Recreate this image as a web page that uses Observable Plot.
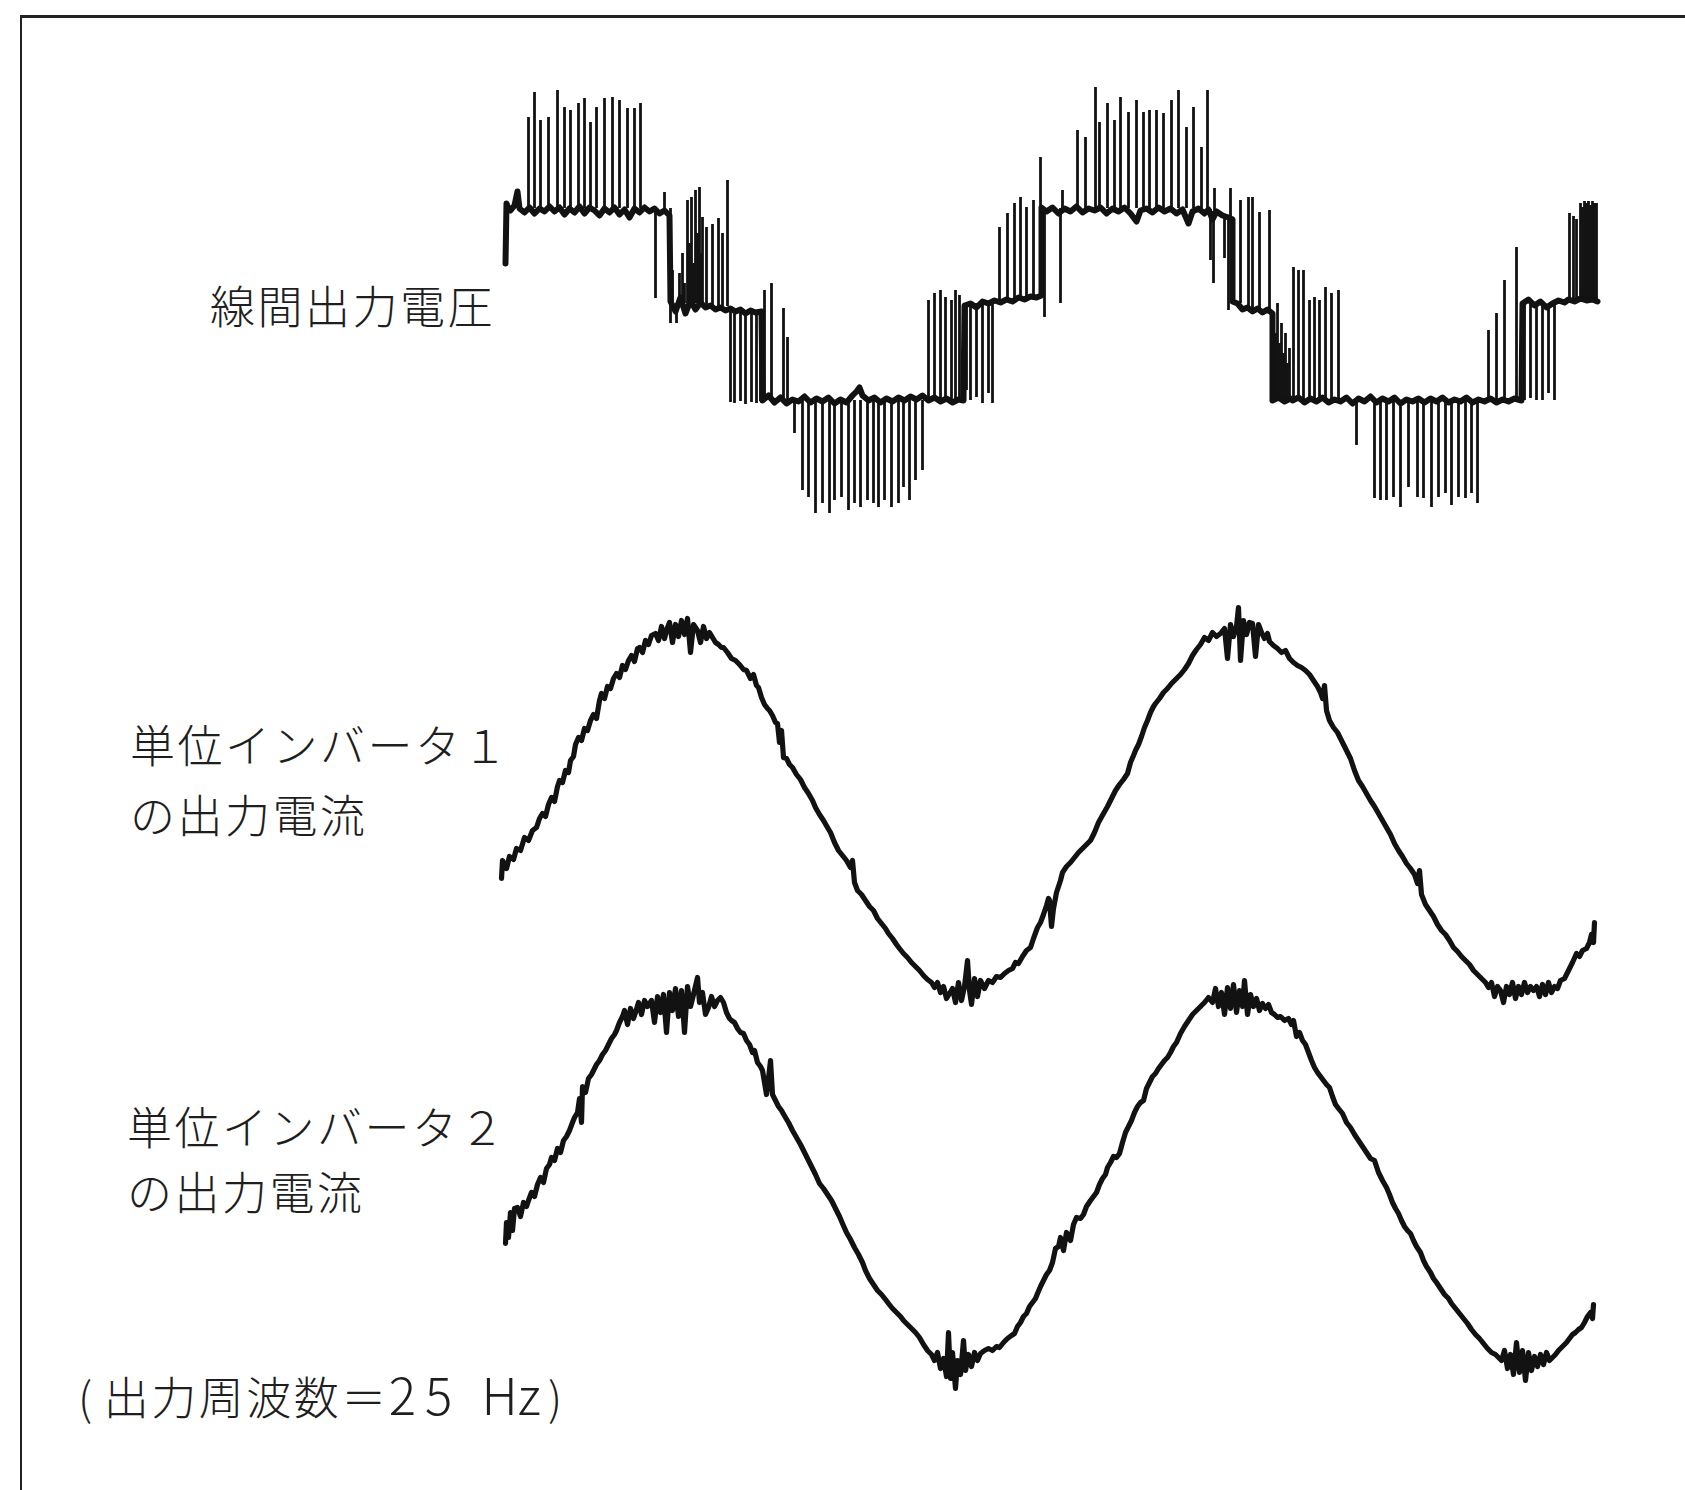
<!DOCTYPE html>
<html lang="ja">
<head>
<meta charset="utf-8">
<script src="https://cdn.jsdelivr.net/npm/d3@7"></script>
<script src="https://cdn.jsdelivr.net/npm/@observablehq/plot@0.6"></script>
<style>
  html, body { margin: 0; padding: 0; background: #fff; }
  #figure {
    position: relative; width: 1685px; height: 1490px; background: #fff; overflow: hidden;
    font-family: "Noto Sans CJK JP", "Noto Sans", sans-serif; color: #1e1e1e;
  }
  #figure .frame {
    position: absolute; left: 20px; top: 15px; right: -4px; bottom: -4px;
    border-top: 3px solid #222; border-left: 2px solid #222;
  }
  #figure svg.trace { position: absolute; left: 0; }
  .label { position: absolute; font-size: 45px; line-height: 70px; letter-spacing: 2.5px; white-space: pre; font-weight: 300; }
  #label-voltage { left: 210px; top: 270px; }
  #label-current1 { left: 130px; top: 709px; }
  #label-current2 { left: 127px; top: 1093px; line-height: 65px; }
  #caption { left: 78px; top: 1358px; }
  #caption .open { margin-right: 9px; }
  #caption .num { font-size: 51px; letter-spacing: 9px; }
  #caption .unit { font-size: 51px; letter-spacing: 0; }
  #caption .close { margin-left: 7px; }
</style>
</head>
<body>
<div id="figure"><div class="frame"></div></div>
<script>
// Time axis: sample index (common to all three traces).
// Amplitudes: arbitrary units, zero at the centre of each trace.

// Line-to-line output voltage: stepped base level [t, v]
const voltageBase = [
  [5,40],[6,100],[8,95],[10,93],[14,98],[17,112],[19,95],[24,91],[29,96],[34,90],[39,95],[44,92],[49,97],[54,92],
  [59,96],[64,89],[69,95],[74,91],[79,97],[84,90],[89,96],[94,93],[99,88],[104,95],[109,91],[114,96],[119,89],
  [124,94],[129,86],[134,95],[139,91],[144,96],[149,92],[154,95],[159,90],[164,93],[169,88],[170,2],[175,-8],
  [180,6],[185,-10],[190,3],[195,-6],[200,1],[205,-4],[210,-2],[215,-6],[220,-4],[225,-7],[230,-5],[235,-8],
  [240,-6],[245,-10],[250,-7],[255,-9],[261,-8],[262,-97],[268,-92],[274,-99],[280,-94],[286,-100],[292,-96],
  [298,-98],[304,-93],[310,-99],[316,-95],[322,-98],[328,-94],[334,-100],[340,-96],[346,-99],[352,-92],[356,-88],
  [359,-84],[362,-92],[368,-97],[374,-94],[380,-99],[386,-95],[392,-98],[398,-94],[404,-97],[410,-93],[416,-96],
  [422,-92],[428,-97],[434,-94],[440,-98],[446,-95],[452,-99],[458,-96],[463,-97],[464,-2],[470,0],[476,-4],
  [482,2],[488,0],[494,3],[500,1],[506,4],[512,2],[518,6],[524,4],[530,7],[536,6],[541,8],[541,96],[546,92],
  [552,96],[558,90],[564,95],[570,92],[576,97],[582,91],[588,95],[594,93],[600,96],[606,90],[612,95],[618,92],
  [624,96],[630,90],[636,82],[640,93],[646,95],[652,91],[658,96],[664,92],[670,95],[676,90],[682,94],[688,80],
  [692,92],[698,95],[704,90],[708,94],[712,84],[716,92],[722,88],[728,86],[732,84],[732,2],[737,0],[742,-6],
  [747,-4],[752,-8],[757,-5],[762,-9],[767,-6],[772,-10],[772,-97],[778,-94],[784,-98],[790,-95],[792,-97],
  [798,-94],[804,-99],[810,-95],[816,-98],[822,-94],[828,-99],[834,-96],[840,-98],[846,-94],[852,-100],[858,-95],
  [864,-98],[870,-93],[876,-99],[882,-95],[888,-98],[894,-94],[900,-100],[906,-96],[912,-98],[918,-95],[924,-99],
  [930,-95],[936,-98],[942,-94],[948,-99],[954,-96],[960,-98],[966,-94],[972,-99],[978,-96],[984,-98],[990,-95],
  [996,-99],[1002,-96],[1008,-98],[1014,-95],[1021,-97],[1022,0],[1028,4],[1034,-2],[1040,2],[1046,-4],[1052,0],
  [1058,3],[1064,1],[1068,4],[1074,2],[1080,5],[1086,3],[1092,4],[1097,2]
];

// Line-to-line output voltage: switching pulses [t, from, to]
const voltageSpikes = [
  [28,95,186],[34,95,211],[40,95,183],[48,95,186],[57,95,213],[64,95,196],[70,95,193],[78,95,200],[84,95,205],
  [90,95,181],[96,95,196],[104,95,205],[112,95,206],[119,95,203],[127,95,195],[134,95,195],[140,95,200],
  [155,95,5],[164,95,111],[170,95,-20],
  [172,0,33],[176,0,-20],[179,0,30],[182,0,50],[184,0,20],[187,0,103],[189,0,60],[191,0,106],[193,0,40],
  [195,0,113],[197,0,70],[199,0,116],[201,0,50],[202,0,86],
  [206,-3,76],[212,-3,79],[218,-3,85],[222,-3,70],[227,-3,123],
  [230,-5,-99],[234,-6,-100],[240,-6,-98],[245,-8,-101],[251,-7,-99],[256,-9,-100],[260,-8,-98],
  [264,-97,13],[271,-97,20],[283,-97,-5],[287,-97,-34],[294,-97,-130],
  [302,-97,-187],[308,-97,-194],[315,-97,-210],[322,-97,-200],[329,-97,-210],[334,-97,-197],[341,-97,-194],
  [348,-97,-207],[354,-97,-200],[360,-97,-204],[367,-97,-197],[373,-97,-200],[378,-97,-204],[384,-97,-197],
  [391,-97,-204],[398,-97,-200],[403,-97,-184],[409,-97,-197],[415,-97,-177],[422,-97,-167],
  [428,-97,3],[434,-97,10],[440,-97,13],[445,-97,6],[451,-97,3],[455,-97,13],[459,-97,8],
  [466,0,-87],[470,0,-97],[476,0,-94],[482,0,-100],[488,0,-90],[492,0,-100],
  [499,3,76],[507,3,90],[514,4,100],[520,5,106],[526,5,96],[533,6,103],[540,7,146],
  [544,95,-14],[560,95,0],[562,95,113],[577,95,173],[585,95,166],
  [595,95,216],[599,95,181],[607,95,200],[614,95,183],[620,95,206],[628,95,191],[636,95,203],[643,95,191],
  [649,95,193],[656,95,193],[663,95,190],[671,95,203],[678,95,213],[686,95,176],[693,95,196],[701,95,156],[707,95,213],
  [710,94,43],[713,92,20],[714,92,115],[724,88,45],[728,85,-7],[730,85,115],
  [740,0,103],[748,-4,106],[752,-8,106],[759,-5,91],[769,-6,93],
  [773,-97,-10],[775,-97,-30],[777,-97,0],[779,-97,-40],[781,-97,-20],[783,-97,-50],[785,-97,-30],[787,-97,-60],
  [789,-97,-45],
  [793,-97,36],[798,-97,33],[803,-97,33],[809,-97,3],[814,-97,6],[819,-97,3],[825,-97,16],[831,-97,10],[838,-97,13],
  [856,-97,-142],
  [874,-97,-195],[880,-97,-197],[886,-97,-197],[893,-97,-194],[900,-97,-204],[908,-97,-184],[917,-97,-194],
  [923,-97,-195],[931,-97,-204],[938,-97,-194],[945,-97,-190],[951,-97,-202],[958,-97,-194],[965,-97,-195],
  [971,-97,-190],[977,-97,-200],
  [988,-97,-27],[996,-97,-10],[1004,-97,23],[1016,-97,56],
  [1024,2,-97],[1030,3,-95],[1036,-1,-97],[1042,1,-97],[1048,-2,-90],[1054,0,-97],
  [1069,3,90],[1073,2,87],[1076,4,84],[1080,4,100],[1082,4,96],[1084,3,102],[1086,3,100],[1088,4,102],
  [1090,4,98],[1092,4,102],[1094,3,100],[1096,2,100]
];

// Output current of unit inverter 1 [t, i]
const current1 = [
  [1,-68],[2,-50],[6,-58],[9,-46],[13,-49],[16,-38],[20,-40],[24,-27],[28,-30],[32,-20],[36,-17],[39,-8],[42,-3],
  [45,-6],[48,6],[51,13],[54,9],[57,24],[59,30],[62,28],[65,40],[68,38],[70,50],[73,54],[75,66],[78,73],[81,70],
  [84,82],[87,80],[90,90],[93,96],[96,92],[99,110],[101,117],[104,112],[107,124],[110,122],[113,132],[116,137],
  [119,133],[122,145],[125,141],[128,150],[131,155],[134,149],[137,162],[139,163],[142,158],[145,170],[148,166],
  [151,175],[155,177],[158,170],[161,184],[164,172],[166,180],[169,188],[172,168],[175,186],[178,174],[181,190],
  [184,176],[187,192],[190,158],[193,186],[197,180],[200,168],[203,184],[206,172],[209,178],[212,173],[215,168],
  [218,166],[221,163],[223,163],[227,158],[231,152],[235,150],[239,146],[243,141],[246,140],[250,132],[253,136],
  [256,125],[258,123],[261,113],[264,106],[267,102],[269,100],[272,95],[275,88],[277,87],[279,68],[281,80],
  [283,53],[286,52],[289,46],[292,43],[296,36],[300,31],[304,23],[308,17],[312,10],[315,3],[319,-4],[323,-10],
  [327,-17],[330,-22],[334,-32],[338,-40],[342,-45],[346,-50],[350,-57],[352,-50],[354,-72],[357,-80],[361,-84],
  [365,-90],[369,-96],[373,-100],[377,-108],[381,-113],[385,-118],[388,-123],[392,-128],[396,-134],[399,-138],
  [403,-143],[407,-147],[411,-152],[415,-156],[419,-160],[423,-165],[427,-169],[431,-172],[434,-177],[437,-172],
  [440,-182],[443,-176],[446,-188],[449,-183],[452,-178],[455,-192],[458,-172],[461,-190],[464,-176],[467,-150],
  [469,-180],[471,-194],[474,-168],[477,-186],[480,-170],[484,-178],[488,-170],[492,-172],[496,-166],[500,-167],
  [504,-163],[508,-160],[512,-158],[515,-152],[518,-153],[522,-146],[526,-140],[530,-137],[533,-128],[537,-117],
  [540,-112],[543,-104],[546,-95],[548,-88],[549,-90],[551,-116],[553,-98],[556,-82],[560,-70],[562,-62],
  [566,-56],[570,-52],[574,-47],[578,-42],[582,-38],[586,-34],[590,-30],[594,-22],[598,-12],[603,-3],[607,4],
  [611,12],[615,20],[619,26],[623,31],[627,37],[630,48],[633,55],[635,60],[638,66],[641,74],[644,83],[647,90],
  [650,98],[653,104],[655,107],[659,112],[663,118],[667,122],[671,127],[675,131],[680,136],[684,141],[688,147],
  [692,155],[696,161],[700,166],[704,173],[708,170],[712,178],[716,174],[720,177],[724,182],[727,152],[730,186],
  [733,174],[736,184],[738,203],[740,150],[743,190],[746,176],[749,188],[752,187],[755,154],[758,186],[761,178],
  [764,172],[767,177],[769,169],[773,165],[777,162],[781,158],[785,160],[789,152],[793,148],[797,145],[801,143],
  [805,140],[809,136],[813,130],[817,124],[820,118],[822,112],[824,125],[826,100],[829,90],[833,83],[837,78],
  [841,70],[846,60],[850,52],[854,40],[858,30],[862,24],[866,17],[870,10],[874,4],[878,-3],[882,-10],[886,-17],
  [890,-24],[894,-33],[898,-40],[902,-46],[906,-53],[910,-58],[914,-64],[917,-73],[919,-60],[921,-84],[925,-94],
  [929,-100],[933,-106],[937,-114],[941,-120],[945,-124],[949,-130],[953,-137],[957,-141],[961,-146],[965,-150],
  [969,-154],[973,-160],[977,-164],[981,-168],[985,-172],[988,-177],[991,-172],[994,-186],[997,-176],[1000,-180],
  [1003,-192],[1006,-176],[1009,-184],[1012,-172],[1015,-188],[1018,-176],[1021,-184],[1024,-172],[1027,-182],
  [1030,-176],[1033,-180],[1036,-176],[1039,-186],[1042,-174],[1045,-184],[1048,-172],[1051,-182],[1054,-176],
  [1057,-178],[1060,-170],[1064,-168],[1068,-160],[1072,-152],[1076,-143],[1079,-146],[1082,-140],[1086,-138],
  [1089,-132],[1091,-124],[1093,-132],[1094,-112]
];

// Output current of unit inverter 2 [t, i]
const current2 = [
  [5,-61],[6,-40],[8,-55],[10,-30],[12,-48],[14,-26],[17,-25],[20,-34],[23,-20],[26,-24],[28,-18],[31,-10],
  [34,-14],[37,-2],[40,5],[43,0],[46,14],[49,18],[51,25],[54,22],[57,34],[60,30],[63,42],[66,46],[69,52],[72,60],
  [74,65],[77,70],[79,84],[81,60],[82,96],[85,90],[88,104],[91,108],[93,112],[96,118],[99,122],[102,128],[105,132],
  [108,138],[111,144],[114,148],[116,152],[119,160],[122,166],[124,172],[127,158],[130,174],[133,164],[135,170],
  [138,180],[141,168],[144,182],[147,176],[151,182],[154,160],[157,186],[160,170],[163,188],[166,150],[169,190],
  [172,172],[175,194],[178,166],[181,192],[184,150],[187,196],[190,176],[193,188],[197,205],[199,180],[202,190],
  [205,168],[208,175],[211,186],[214,176],[217,182],[220,185],[223,180],[226,170],[229,164],[231,162],[234,160],
  [237,154],[240,150],[243,149],[246,142],[249,138],[252,130],[254,132],[257,120],[260,116],[262,112],[264,100],
  [266,88],[268,104],[270,122],[272,88],[275,82],[278,76],[281,72],[285,65],[288,60],[292,52],[296,45],[300,38],
  [304,30],[308,22],[311,16],[315,8],[319,-1],[323,-6],[327,-12],[331,-18],[335,-26],[339,-34],[342,-41],
  [346,-50],[350,-57],[354,-65],[358,-72],[362,-80],[365,-88],[369,-96],[373,-102],[377,-108],[381,-112],
  [385,-117],[388,-121],[392,-126],[396,-130],[400,-134],[403,-138],[407,-142],[411,-146],[415,-150],[419,-155],
  [423,-162],[427,-168],[431,-172],[434,-178],[437,-170],[440,-186],[443,-176],[446,-194],[448,-150],[450,-196],
  [452,-170],[455,-206],[457,-178],[460,-192],[463,-158],[465,-188],[468,-172],[471,-184],[474,-170],[477,-178],
  [480,-171],[484,-168],[488,-166],[492,-168],[496,-164],[499,-165],[503,-160],[507,-156],[511,-153],[514,-151],
  [517,-144],[520,-140],[523,-134],[526,-131],[529,-124],[532,-120],[535,-116],[537,-111],[540,-104],[543,-98],
  [546,-92],[549,-88],[552,-80],[555,-66],[558,-64],[560,-55],[563,-68],[566,-50],[570,-58],[573,-42],[576,-35],
  [580,-36],[583,-32],[586,-24],[590,-18],[593,-14],[596,-10],[599,-2],[602,4],[605,8],[607,15],[610,20],
  [613,26],[616,25],[619,29],[622,40],[625,50],[628,56],[631,62],[634,70],[637,76],[640,80],[643,82],[646,94],
  [649,100],[652,106],[655,109],[658,114],[661,118],[664,122],[667,125],[670,130],[673,136],[676,140],[680,149],
  [684,156],[688,162],[692,168],[696,172],[700,176],[704,180],[708,185],[712,180],[715,194],[718,176],[721,190],
  [724,168],[727,195],[730,174],[733,198],[736,170],[739,192],[742,176],[744,202],[747,168],[750,188],[753,176],
  [756,184],[759,172],[762,179],[765,174],[768,178],[771,170],[774,168],[777,165],[780,166],[784,162],[788,164],
  [791,158],[793,162],[796,146],[799,150],[802,142],[805,138],[808,130],[811,122],[814,115],[817,110],[820,106],
  [823,102],[826,98],[829,95],[832,86],[835,78],[838,74],[842,69],[846,60],[850,55],[854,48],[858,42],[862,36],
  [866,30],[870,24],[874,22],[878,10],[882,2],[886,-5],[889,-12],[892,-20],[895,-26],[898,-31],[901,-38],
  [904,-44],[907,-48],[910,-51],[913,-58],[916,-64],[920,-70],[923,-78],[926,-84],[930,-90],[933,-96],[936,-100],
  [940,-106],[944,-112],[948,-116],[951,-121],[955,-126],[959,-131],[963,-136],[967,-141],[971,-147],[975,-152],
  [979,-156],[983,-161],[987,-166],[991,-170],[995,-172],[998,-175],[1001,-178],[1004,-168],[1007,-186],
  [1010,-172],[1013,-192],[1016,-160],[1019,-190],[1022,-168],[1025,-198],[1028,-170],[1031,-188],[1034,-174],
  [1037,-184],[1040,-172],[1043,-182],[1046,-170],[1049,-178],[1052,-175],[1055,-172],[1058,-168],[1062,-164],
  [1066,-160],[1069,-156],[1072,-152],[1075,-150],[1078,-147],[1081,-145],[1084,-140],[1087,-134],[1090,-130],
  [1092,-136],[1093,-122]
];

// Trace labels and caption
const voltageLabel = ["線間出力電圧"];
const current1Label = ["単位インバータ１", "の出力電流"];
const current2Label = ["単位インバータ２", "の出力電流"];
const captionParts = ["(", "出力周波数＝", "25 ", "Hz", ")"];
const captionClasses = ["open", "", "num", "unit", "close"];

const fig = document.getElementById("figure");
const ink = "#121212";
const tx = d => d[0];

function addTrace(marks, top, height, yDomain) {
  const svg = Plot.plot({
    width: 1685,
    height,
    marginLeft: 500,
    marginRight: 85,
    marginTop: 0,
    marginBottom: 0,
    x: {domain: [0, 1100], axis: null},
    y: {domain: yDomain, axis: null},
    style: {background: "transparent", overflow: "visible"},
    marks
  });
  svg.classList.add("trace");
  svg.style.top = top + "px";
  fig.appendChild(svg);
}

// Line-to-line voltage
addTrace([
  Plot.ruleX(voltageSpikes, {x: tx, y1: d => d[1], y2: d => d[2], stroke: ink, strokeWidth: 2.8}),
  Plot.line(voltageBase, {x: tx, y: d => d[1], stroke: ink, strokeWidth: 6, strokeLinejoin: "round"})
], 78, 450, [-225, 225]);

// Unit inverter 1 current
addTrace([
  Plot.line(current1, {x: tx, y: d => d[1], stroke: ink, strokeWidth: 5.2, strokeLinejoin: "round"})
], 595, 430, [-215, 215]);

// Unit inverter 2 current
addTrace([
  Plot.line(current2, {x: tx, y: d => d[1], stroke: ink, strokeWidth: 5.2, strokeLinejoin: "round"})
], 967, 430, [-215, 215]);

function addLabel(id, lines) {
  const div = document.createElement("div");
  div.className = "label";
  div.id = id;
  div.textContent = lines.join("\n");
  fig.appendChild(div);
}
addLabel("label-voltage", voltageLabel);
addLabel("label-current1", current1Label);
addLabel("label-current2", current2Label);

const cap = document.createElement("div");
cap.className = "label";
cap.id = "caption";
captionParts.forEach((p, i) => {
  const span = document.createElement("span");
  span.textContent = p;
  if (captionClasses[i]) span.className = captionClasses[i];
  cap.appendChild(span);
});
fig.appendChild(cap);
</script>
</body>
</html>
